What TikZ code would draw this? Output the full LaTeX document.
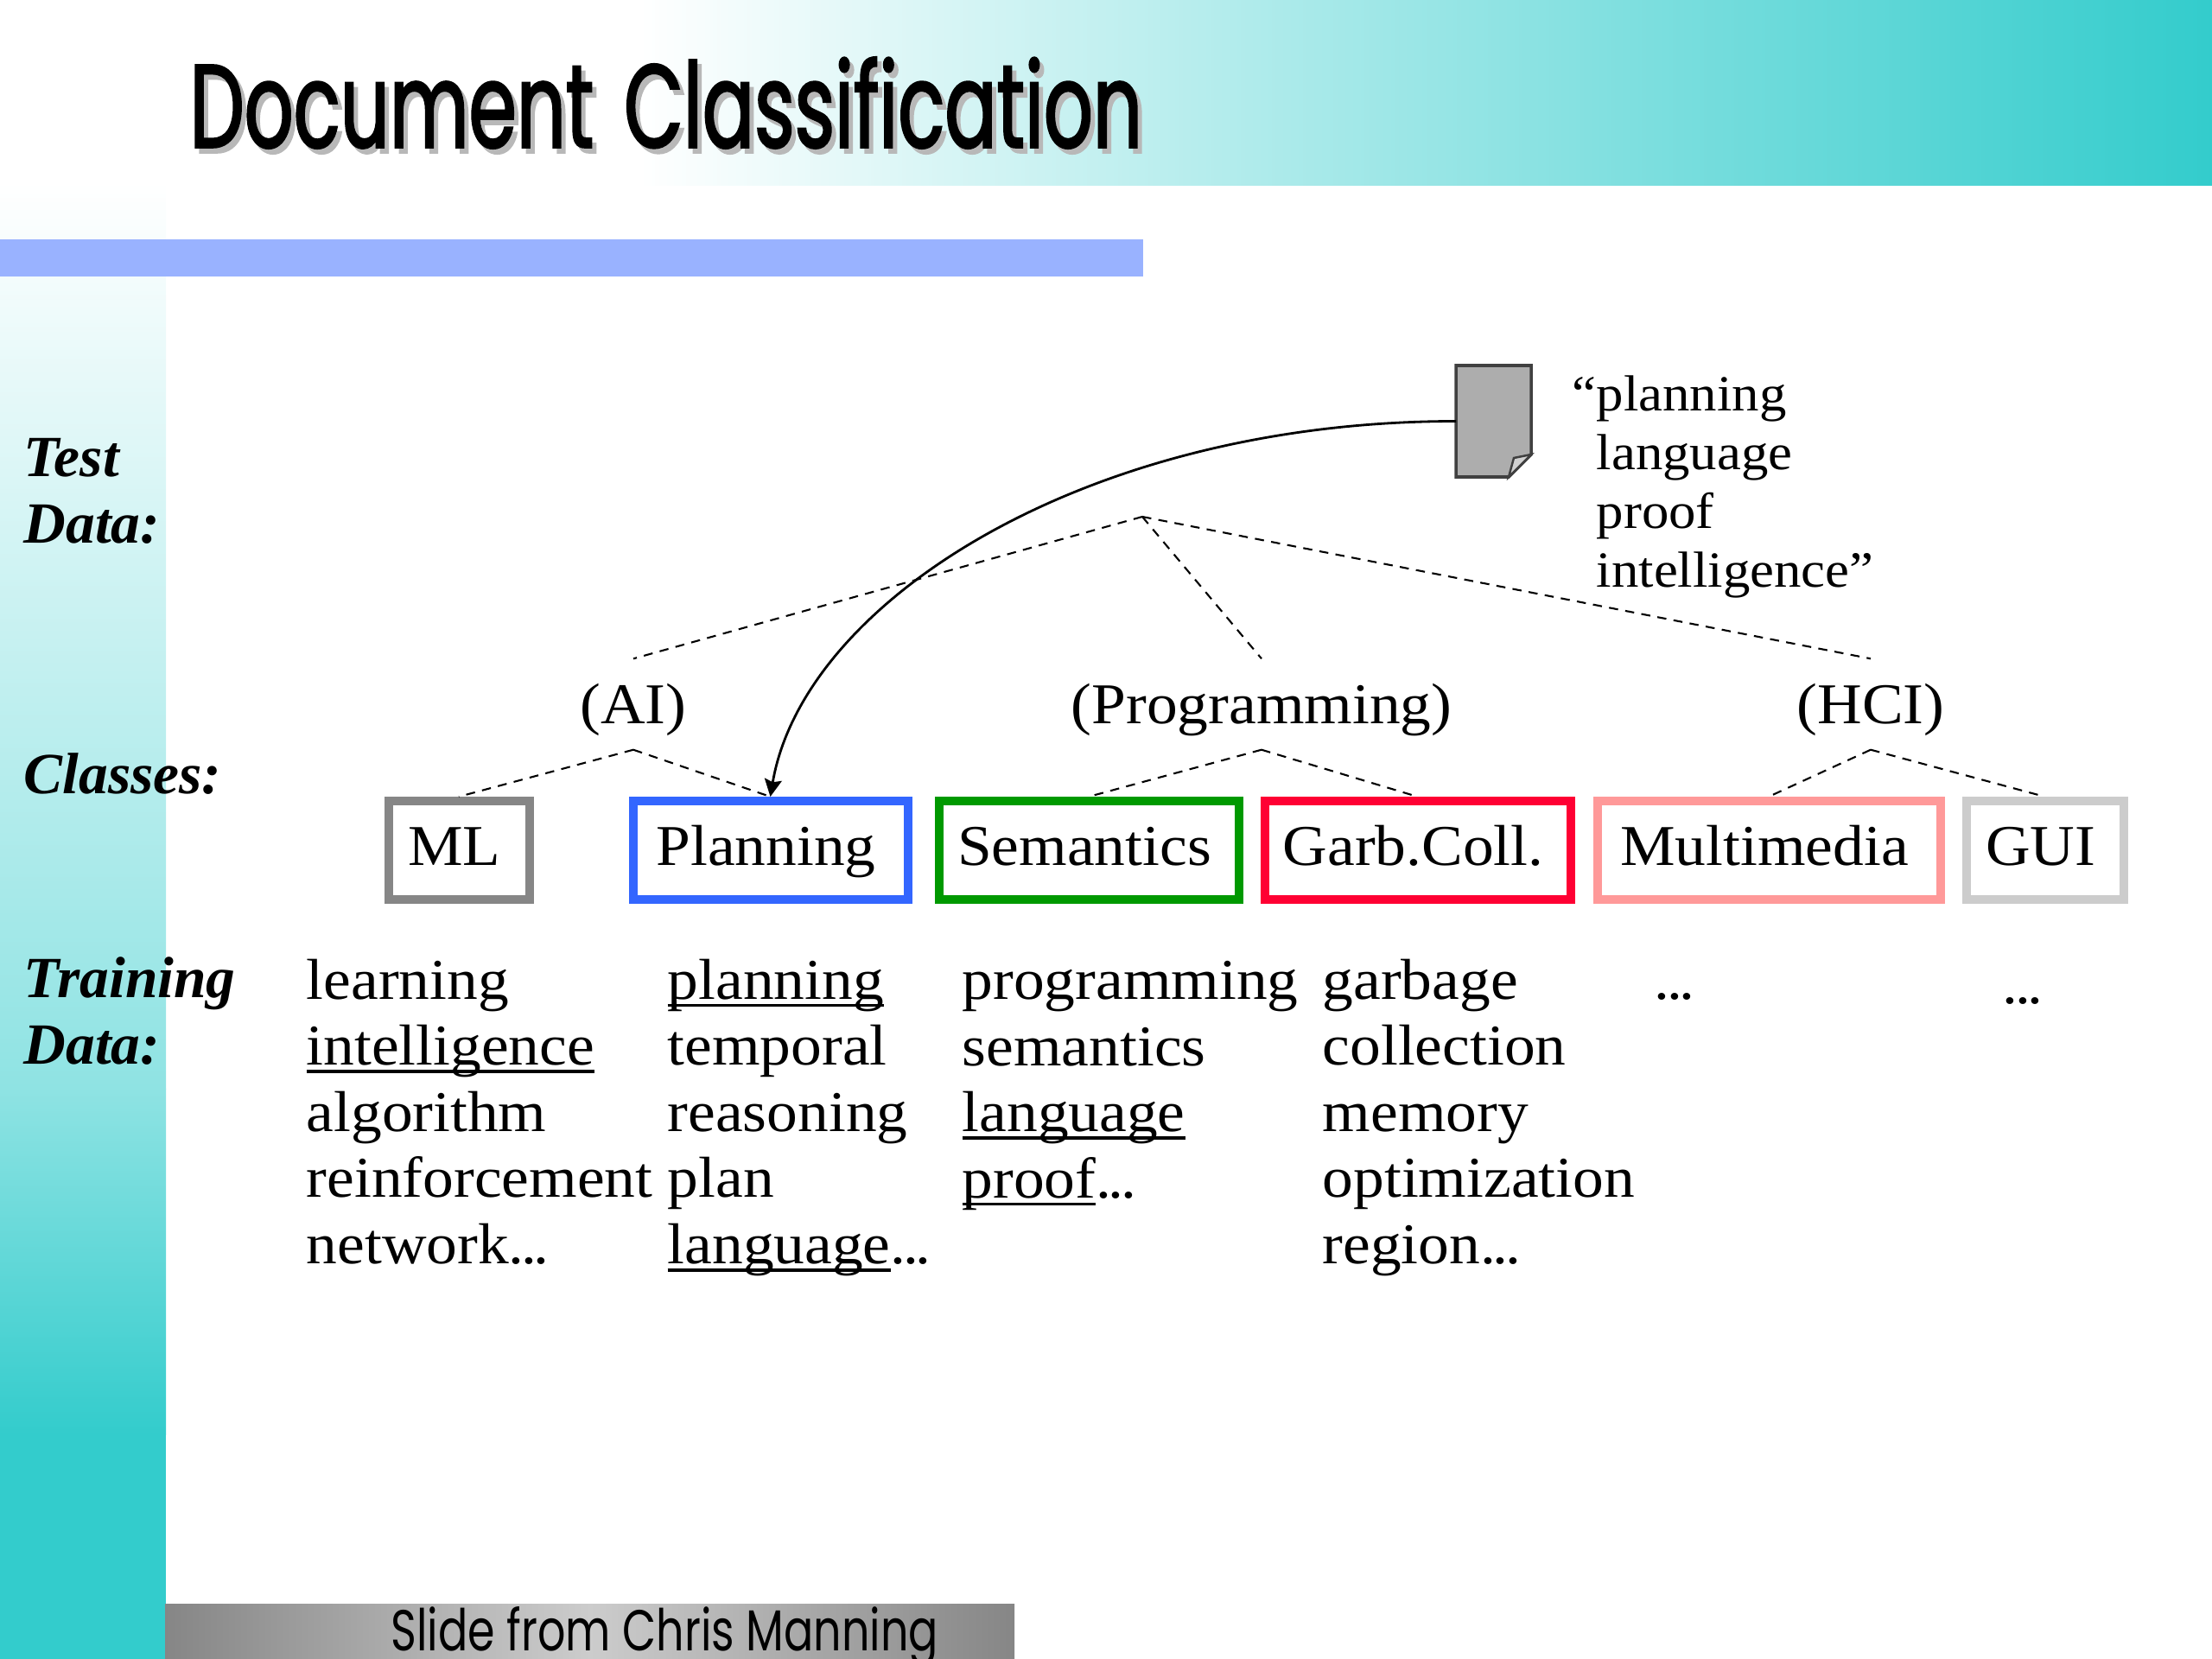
\documentclass[tikz,border=0pt]{standalone}
\usepackage{fontspec}
\setmainfont[FakeStretch=1.07]{Liberation Serif}
\newfontfamily\sidefont{Liberation Serif}
\newfontfamily\titlefont[FakeStretch=0.65,FakeBold=1.6]{Poppins}
\newfontfamily\footfont[FakeStretch=0.76]{Poppins}
\usetikzlibrary{positioning}
\usetikzlibrary{arrows.meta}
\usepackage{xcolor}
\definecolor{bandteal}{HTML}{33CCCC}
\definecolor{barblue}{HTML}{99B2FF}
\definecolor{mlgray}{HTML}{868686}
\definecolor{planblue}{HTML}{3366FF}
\definecolor{semgreen}{HTML}{009900}
\definecolor{garbred}{HTML}{FF0033}
\definecolor{multipink}{HTML}{FF9999}
\definecolor{guigray}{HTML}{CCCCCC}
\newcommand{\ulword}[1]{\setbox0\hbox{#1}\rlap{\rule[-2.6pt]{\wd0}{1pt}}\box0}
\newcommand{\tightdots}{.\kern-1pt.\kern-1pt.}

\begin{document}
\begin{tikzpicture}[
    bodytext/.style={font=\fontsize{19}{21.8}\selectfont},
    classbox/.style={draw, line width=1mm, fill=white, bodytext, minimum height=1.14cm, inner sep=0pt, text height=13pt, text depth=3pt, execute at end node={\kern0.1cm}},
    grouplabel/.style={bodytext, minimum height=1.04cm, inner sep=0pt, text height=13pt, text depth=0pt},
    sidelabel/.style={anchor=north west, align=left, inner sep=0pt, font=\fontsize{19.2}{21.8}\sidefont\bfseries\itshape},
    wordlist/.style={anchor=north west, align=left, inner sep=0pt, bodytext, execute at begin node={\rule{0pt}{13pt}}},
    querytext/.style={anchor=north west, align=left, inner sep=0pt, font=\fontsize{16.7}{19.4}\selectfont},
    titletext/.style={anchor=west, inner sep=0pt, font=\fontsize{39}{39}\titlefont},
    treeline/.style={dashed, dash pattern=on 3pt off 2.4pt, line width=0.6pt},
    flowarrow/.style={line width=0.8pt,->,>={Stealth[length=2mm,width=2mm,inset=0.3mm]}}
]
  \useasboundingbox (0,0) rectangle (25.6,-19.2);

  % Background
  \shade [left color=white, right color=bandteal] (7.4,0) rectangle (25.6,-2.15);
  \shade [top color=white, bottom color=bandteal!55!white] (0,-2.1) rectangle (1.92,-12.6);
  \shade [top color=bandteal!55!white, bottom color=bandteal] (0,-12.6) rectangle (1.92,-16.6);
  \fill [bandteal] (0,-16.6) rectangle (1.92,-19.2);
  \fill [barblue] (0,-2.77) rectangle (13.23,-3.2);
  \shade [left color=mlgray, right color=mlgray, middle color=guigray] (1.91,-18.56) rectangle (11.74,-19.2);

  % Title and footer
  \node (titleshadow) [titletext, text=black!28] at (2.24,-1.25) {Document\hspace{0.35cm}Classification};
  \node (title) [titletext] at (2.19,-1.19) {Document\hspace{0.35cm}Classification};
  \node (footer) [anchor=base west, inner sep=0pt, font=\fontsize{19}{19}\footfont] at (4.52,-19.1) {Slide from Chris Manning};

  % Side labels
  \node (testlabel) [sidelabel] at (0.27,-5.07) {Test\\Data:};
  \node (classlabel) [sidelabel] at (0.27,-8.71) {Classes:};
  \node (trainlabel) [sidelabel] at (0.27,-11.07) {Training\\Data:};

  % Test document
  \node (doc) [minimum width=0.87cm, minimum height=1.29cm, inner sep=0pt, outer sep=0pt] at (17.285,-4.875) {};
  \draw [line width=1pt, draw=black!75, fill=black!32] (doc.north west) -- (doc.north east) -- ++(0,-1.03) -- ++(-0.26,-0.26) -- (doc.south west) -- cycle;
  \draw [line width=0.7pt, draw=black!75, fill=black!18] (doc.south east) ++(-0.26,0) -- ++(0.06,0.22) -- ++(0.2,0.04) -- cycle;
  \node (query) [querytext] at (18.47,-4.34) {\llap{``}planning\\language\\proof\\intelligence''};

  % Nodes
  \coordinate (root) at (13.22,-5.98);
  \node (ai) [grouplabel] at (7.33,-8.15) {(AI)};
  \node (prog) [grouplabel] at (14.60,-8.15) {(Programming)};
  \node (hci) [grouplabel] at (21.65,-8.15) {(HCI)};

  \node (ml) [classbox, draw=mlgray, minimum width=1.63cm] at (5.31,-9.84) {ML};
  \node (plan) [classbox, draw=planblue, minimum width=3.18cm, right=1.10cm of ml] {Planning};
  \node (sem) [classbox, draw=semgreen, minimum width=3.47cm, right=0.26cm of plan] {Semantics};
  \node (garb) [classbox, draw=garbred, minimum width=3.54cm, right=0.20cm of sem] {Garb.Coll.};
  \node (multi) [classbox, draw=multipink, minimum width=3.97cm, right=0.21cm of garb] {Multimedia};
  \node (gui) [classbox, draw=guigray, minimum width=1.82cm, right=0.20cm of multi] {GUI};

  % Training words
  \node (mlwords) [wordlist] at (3.54,-11.09) {learning\\\ulword{intelligence}\\algorithm\\reinforcement\\network\tightdots};
  \node (planwords) [wordlist] at (7.72,-11.09) {\ulword{planning}\\temporal\\reasoning\\plan\\\ulword{language}\tightdots};
  \node (semwords) [wordlist] at (11.13,-11.115) {programming\\semantics\\\ulword{language}\\\ulword{proof}\tightdots};
  \node (garbwords) [wordlist] at (15.30,-11.09) {garbage\\collection\\memory\\optimization\\region\tightdots};
  \node (multiwords) [wordlist] at (19.14,-11.10) {\tightdots};
  \node (guiwords) [wordlist] at (23.17,-11.15) {\tightdots};

  % Arrows
  \draw [treeline] (root) -- (ai.north);
  \draw [treeline] (root) -- (prog.north);
  \draw [treeline] (root) -- (hci.north);
  \draw [treeline] (ai.south) -- (ml.north);
  \draw [treeline] (ai.south) -- (plan.north);
  \draw [treeline] (prog.south) -- (sem.north);
  \draw [treeline] (prog.south) -- (garb.north);
  \draw [treeline] (hci.south) -- (multi.north);
  \draw [treeline] (hci.south) -- (gui.north);
  \draw [flowarrow] (doc.west) .. controls +(-4.3,0) and +(0.38,2.25) .. (plan.north);
\end{tikzpicture}
\end{document}
